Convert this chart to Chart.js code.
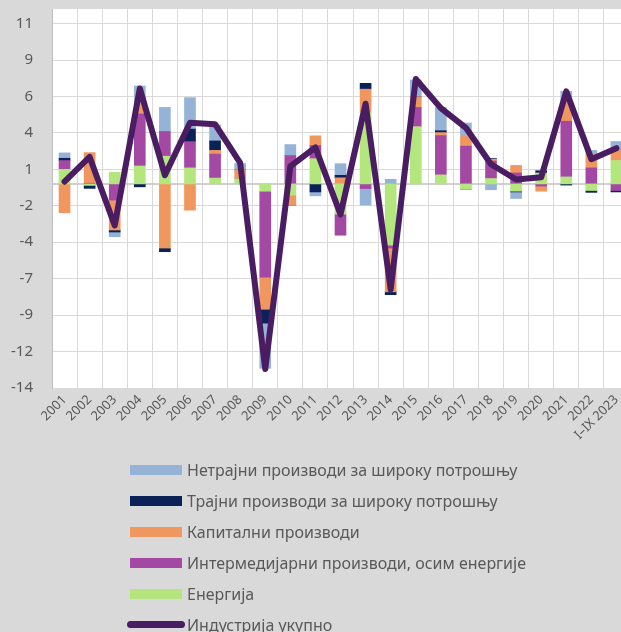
<!DOCTYPE html>
<html>
<head>
<meta charset="utf-8">
<script src="https://cdn.jsdelivr.net/npm/chart.js@4.4.0/dist/chart.umd.min.js"></script>
<style>
    html, body { margin: 0; padding: 0; background: #d9d9d9; overflow: hidden; width: 621px; height: 632px; }
    #wrap { position: relative; width: 640px; height: 632px; }
    #legend { position: absolute; left: 127px; top: 454px; font-family: "Noto Sans", sans-serif; font-size: 16px; color: #595959; }
    .item { display: flex; align-items: center; height: 31px; white-space: nowrap; }
    .sw { width: 52px; height: 10px; margin: 0 5px 0 3px; }
    .ln { width: 58px; height: 7px; border-radius: 4px; margin-right: 2px; }
</style>
</head>
<body>
<div id="wrap">
    <canvas id="chart" width="640" height="632"></canvas>
    <div id="legend"></div>
</div>
<script>
// Years on the x axis
var years = ['2001', '2002', '2003', '2004', '2005', '2006', '2007', '2008', '2009', '2010', '2011', '2012',
    '2013', '2014', '2015', '2016', '2017', '2018', '2019', '2020', '2021', '2022', 'I\u2013IX 2023'];

// Contributions by component (p.p.)
var energy = [1.0, -0.1, 0.8, 1.23, 1.9, 1.1, 0.4, 0.35, -0.5, -0.77, 1.73, -2.07, 4.9, -4.2, 3.93, 0.62, -0.36, 0.37, -0.5, 0.75, 0.48, -0.45, 1.61];
var intermediate = [0.6, 0.05, -1.11, 3.57, 1.7, 1.8, 1.65, 0, -5.9, 1.95, 0.9, -1.45, -0.32, -0.2, 1.32, 2.7, 2.59, 1.2, 0.75, -0.15, 3.82, 1.1, -0.45];
var capital = [-1.98, 2.1, -2.05, 0.7, -4.4, -1.8, 0.25, 0.6, -2.2, -0.68, 0.67, 0.42, 1.6, -3.0, 0.72, 0.2, 0.73, 0.12, 0.52, -0.35, 1.3, 0.95, 0.7];
var durable = [0.16, -0.2, -0.14, -0.2, -0.25, 0.86, 0.65, 0, -0.95, 0, -0.55, 0.17, 0.4, -0.2, 0, 0.13, 0, 0.05, -0.05, 0.14, -0.08, -0.13, -0.1];
var nondurable = [0.37, 0, -0.32, 1.22, 1.65, 2.16, 1.1, 0.45, -3.1, 0.75, -0.27, 0.8, -1.13, 0.32, 1.16, 1.6, 0.86, -0.4, -0.45, 0.05, 0.75, 0.25, 0.6];

// Total industry (%)
var total = [0.15, 1.85, -2.85, 6.55, 0.6, 4.2, 4.1, 1.45, -12.7, 1.2, 2.5, -2.1, 5.5, -7.25, 7.2, 5.2, 3.85, 1.35, 0.3, 0.45, 6.35, 1.7, 2.45];

// y axis ticks (labels shown rounded)
var tickValues = [-14, -11.5, -9, -6.5, -4, -1.5, 1, 3.5, 6, 8.5, 11];

var textColor = '#595959';
var gridColor = '#d9d9d9';

function bar(label, data, color) {
    return {
        type: 'bar',
        label: label,
        data: data,
        backgroundColor: color,
        barThickness: 11,
        stack: 'parts',
        order: 1
    };
}

// white plot area + zero line
var plotBg = {
    id: 'plotBg',
    beforeDraw: function (chart) {
        var a = chart.chartArea;
        var ctx = chart.ctx;
        ctx.save();
        ctx.fillStyle = '#ffffff';
        ctx.fillRect(a.left, a.top, a.right - a.left, a.bottom - a.top);
        ctx.restore();
    },
    beforeDatasetsDraw: function (chart) {
        var a = chart.chartArea;
        var y = chart.scales.y.getPixelForValue(0);
        var ctx = chart.ctx;
        ctx.save();
        ctx.strokeStyle = '#bfbfbf';
        ctx.lineWidth = 1.5;
        ctx.beginPath();
        ctx.moveTo(a.left, y);
        ctx.lineTo(a.right, y);
        ctx.stroke();
        ctx.restore();
    }
};

var chart = new Chart(document.getElementById('chart').getContext('2d'), {
    data: {
        labels: years,
        datasets: [
            bar('Енергија', energy, '#b3e67c'),
            bar('Интермедијарни производи, осим енергије', intermediate, '#a349a4'),
            bar('Капитални производи', capital, '#f0975f'),
            bar('Трајни производи за широку потрошњу', durable, '#0b2259'),
            bar('Нетрајни производи за широку потрошњу', nondurable, '#95b3d7'),
            {
                type: 'line',
                label: 'Индустрија укупно',
                data: total,
                borderColor: '#4a1d62',
                backgroundColor: '#4a1d62',
                borderWidth: 6,
                pointRadius: 0,
                tension: 0,
                borderJoinStyle: 'round',
                borderCapStyle: 'round',
                stack: 'total',
                order: 0
            }
        ]
    },
    options: {
        responsive: false,
        animation: false,
        layout: { padding: { left: 0, top: 9, right: 11, bottom: 177 } },
        plugins: {
            legend: { display: false },
            tooltip: { enabled: false }
        },
        scales: {
            x: {
                stacked: true,
                grid: { color: gridColor, lineWidth: 1, offset: true, drawTicks: false },
                border: { color: gridColor },
                ticks: {
                    color: textColor,
                    font: { family: 'Noto Sans', size: 13 },
                    minRotation: 45,
                    maxRotation: 45,
                    autoSkip: false,
                    padding: 4
                },
                afterFit: function (s) {
                    s.height = 67;
                    s.paddingLeft = 0;
                    s.paddingRight = 0;
                }
            },
            y: {
                stacked: true,
                min: -14,
                max: 12,
                afterBuildTicks: function (s) {
                    s.ticks = tickValues.map(function (v) { return { value: v }; });
                },
                grid: { color: gridColor, lineWidth: 1, drawTicks: false },
                border: { color: '#bfbfbf', width: 1 },
                ticks: {
                    color: textColor,
                    font: { family: 'Noto Sans', size: 15 },
                    padding: 19,
                    callback: function (v) {
                        var r = Math.round(Math.abs(v));
                        return v < 0 ? '-' + r : String(r);
                    }
                },
                afterFit: function (s) {
                    s.width = 52;
                    s.paddingTop = 0;
                    s.paddingBottom = 0;
                }
            }
        }
    },
    plugins: [plotBg]
});

// legend below the chart, in the original order
var legendOrder = [4, 3, 2, 1, 0, 5];
var legend = document.getElementById('legend');
legendOrder.forEach(function (i) {
    var ds = chart.data.datasets[i];
    var item = document.createElement('div');
    item.className = 'item';
    var mark = document.createElement('span');
    mark.className = ds.type === 'line' ? 'ln' : 'sw';
    mark.style.background = ds.type === 'line' ? ds.borderColor : ds.backgroundColor;
    var text = document.createElement('span');
    text.textContent = ds.label;
    item.appendChild(mark);
    item.appendChild(text);
    legend.appendChild(item);
});
</script>
</body>
</html>
